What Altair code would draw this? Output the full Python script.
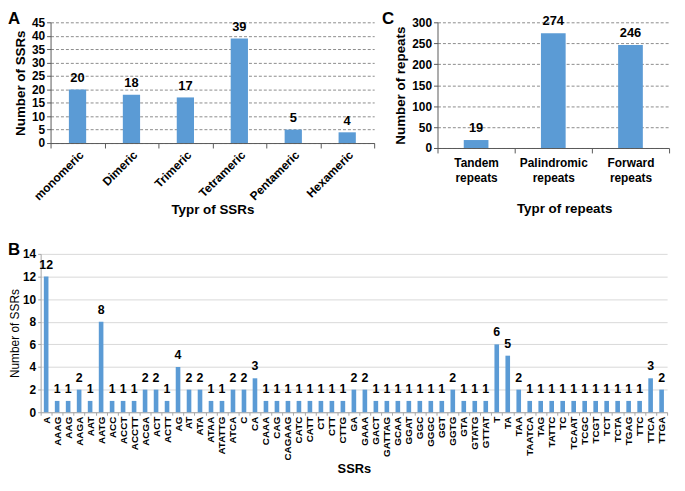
import altair as alt
import pandas as pd

# ---------------- data ----------------
a_types = ["monomeric", "Dimeric", "Trimeric", "Tetrameric", "Pentameric", "Hexameric"]
a_counts = [20, 18, 17, 39, 5, 4]

c_types = ["Tandem repeats", "Palindromic repeats", "Forward repeats"]
c_counts = [19, 274, 246]

b_motifs = ["A", "AAAG", "AAG", "AAGA", "AAT", "AATG", "ACC", "ACCT", "ACCTT", "ACGA",
            "ACT", "ACTT", "AG", "AT", "ATA", "ATAA", "ATATTG", "ATCA", "C", "CA",
            "CAAA", "CAG", "CAGAAG", "CATC", "CATT", "CT", "CTT", "CTTG", "GA", "GAAA",
            "GACT", "GATTAG", "GCAA", "GGAT", "GGC", "GGGC", "GGT", "GGTG", "GTA", "GTATG",
            "GTTAT", "T", "TA", "TAA", "TAATCA", "TAG", "TATTC", "TC", "TCAAT", "TCGC",
            "TCGT", "TCT", "TCTA", "TGAG", "TTC", "TTCA", "TTGA"]
b_counts = [12, 1, 1, 2, 1, 8, 1, 1, 1, 2,
            2, 1, 4, 2, 2, 1, 1, 2, 2, 3,
            1, 1, 1, 1, 1, 1, 1, 1, 2, 2,
            1, 1, 1, 1, 1, 1, 1, 2, 1, 1,
            1, 6, 5, 2, 1, 1, 1, 1, 1, 1,
            1, 1, 1, 1, 1, 3, 2]

FONT = "Liberation Sans"
BAR = "#5b9bd5"
INK = "#000000"


def letter(ch, x, y):
    return alt.Chart(pd.DataFrame({"t": [ch]})).mark_text(
        font=FONT, fontSize=17, fontWeight="bold", align="left", baseline="top", color=INK
    ).encode(text="t:N", x=alt.value(x), y=alt.value(y))


# ---------------- panel A ----------------
dfa = pd.DataFrame({"type": a_types, "n": a_counts})
xa = alt.X("type:N", sort=a_types, scale=alt.Scale(paddingInner=0, paddingOuter=0),
           axis=alt.Axis(title="Typr of SSRs", labelAngle=-45, labelFontSize=12,
                         labelFontWeight="bold", tickBand="extent", tickSize=5,
                         domainColor="#595959", tickColor="#595959", labelPadding=1,
                         titleFontSize=13.5, titleFontWeight="bold", titlePadding=1))
ya = alt.Y("n:Q", scale=alt.Scale(domain=[0, 45], nice=False),
           axis=alt.Axis(title="Number of SSRs", values=list(range(0, 46, 5)),
                         labelOverlap=False, labelFontSize=12, labelFontWeight="bold",
                         tickSize=4, domainColor="#595959", tickColor="#595959",
                         labelPadding=2, gridDash=[3, 2], gridColor="#8c8c8c",
                         titleFontSize=13.5, titleFontWeight="bold", titlePadding=4))
base_a = alt.Chart(dfa).encode(x=xa, y=ya)
bars_a = base_a.mark_bar(color=BAR, width=alt.RelativeBandSize(0.32))
text_a = base_a.mark_text(font=FONT, fontSize=13, fontWeight="bold", dy=-11.5, color=INK).encode(text="n:Q")
panel_a = alt.layer(bars_a, text_a, letter("A", -43, -11)).properties(width=327, height=122)

# ---------------- panel C ----------------
dfc = pd.DataFrame({"type": c_types, "n": c_counts})
xc = alt.X("type:N", sort=c_types, scale=alt.Scale(paddingInner=0, paddingOuter=0),
           axis=alt.Axis(title="Typr of repeats", labelAngle=0, labelFontSize=12,
                         labelFontWeight="bold", labelExpr="split(datum.label, ' ')",
                         labelLineHeight=15, tickBand="extent", tickSize=5,
                         domainColor="#595959", tickColor="#595959", labelPadding=5,
                         titleFontSize=13.5, titleFontWeight="bold", titlePadding=18,
                         titleX=128))
yc = alt.Y("n:Q", scale=alt.Scale(domain=[0, 300], nice=False),
           axis=alt.Axis(title="Number of repeats", values=list(range(0, 301, 50)),
                         labelOverlap=False, labelFontSize=12, labelFontWeight="bold",
                         tickSize=4, domainColor="#595959", tickColor="#595959",
                         labelPadding=2, gridDash=[3, 2], gridColor="#8c8c8c",
                         titleFontSize=13.5, titleFontWeight="bold", titlePadding=4))
base_c = alt.Chart(dfc).encode(x=xc, y=yc)
bars_c = base_c.mark_bar(color=BAR, width=alt.RelativeBandSize(0.32))
text_c = base_c.mark_text(font=FONT, fontSize=13, fontWeight="bold", dy=-12, color=INK).encode(text="n:Q")
panel_c = alt.layer(bars_c, text_c, letter("C", -56, -11)).properties(width=234, height=127)

# ---------------- panel B ----------------
dfb = pd.DataFrame({"motif": b_motifs, "n": b_counts})
xb = alt.X("motif:N", sort=b_motifs,
           scale=alt.Scale(paddingInner=0, paddingOuter=0, range=[-10, 623]),
           axis=alt.Axis(title="SSRs", labelAngle=-90, labelFontSize=10,
                         labelFontWeight="bold", tickBand="extent", tickSize=3,
                         domainColor="#a6a6a6", tickColor="#a6a6a6", labelPadding=1,
                         titleFontSize=13, titleFontWeight="bold", titlePadding=2))
yb = alt.Y("n:Q", scale=alt.Scale(domain=[0, 14], nice=False),
           axis=alt.Axis(title="Number of SSRs", values=list(range(0, 15, 2)),
                         labelOverlap=False, labelFontSize=12, labelFontWeight="bold",
                         tickSize=3, domainColor="#a6a6a6", tickColor="#a6a6a6",
                         labelPadding=2, gridColor="#d9d9d9", titleFontSize=12,
                         titleFontWeight="normal", titlePadding=1, offset=10))
base_b = alt.Chart(dfb).encode(x=xb, y=yb)
bars_b = base_b.mark_bar(color=BAR, width=alt.RelativeBandSize(0.42))
text_b = base_b.mark_text(font=FONT, fontSize=12.5, fontWeight="bold", dy=-12, color=INK).encode(text="n:Q")
panel_b = alt.layer(bars_b, text_b, letter("B", -43, -12)).properties(width=612, height=160)

row1 = alt.hconcat(panel_a, panel_c, spacing=7)
row2 = alt.hconcat(panel_b)
chart = alt.vconcat(row1, row2, spacing=24).properties(
    padding={"left": 0, "top": 0, "right": 0, "bottom": 0}
).configure(font=FONT).configure_view(stroke=None).configure_axis(
    labelColor=INK, titleColor=INK, labelFont=FONT, titleFont=FONT
)

chart.save("out.html", embed_options={"renderer": "svg", "actions": False})
